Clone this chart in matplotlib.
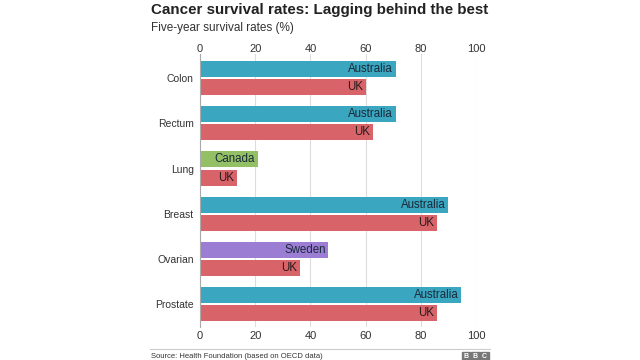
import numpy as np
import matplotlib.pyplot as plt
from matplotlib.patches import Rectangle

plt.rcParams['font.family'] = ['Liberation Sans', 'DejaVu Sans']

# data
cancers = ["Colon", "Rectum", "Lung", "Breast", "Ovarian", "Prostate"]
best_country = ["Australia", "Australia", "Canada", "Australia", "Sweden", "Australia"]
best_rate = [71, 71, 21, 90, 46.5, 94.6]
uk_rate = [60, 62.5, 13.3, 86, 36.3, 86]
xticks = [0, 20, 40, 60, 80, 100]

country_colours = {"Australia": "#3aa6bf", "Canada": "#93c064", "Sweden": "#9b7dd4"}
uk_colour = "#d8646a"

fig = plt.figure(figsize=(6.4, 3.6), dpi=100)
ax = fig.add_axes([200 / 640, 1 - 327 / 360, 276 / 640, 273 / 360])

y = np.arange(len(cancers))
h = 0.353
off = 0.2
best_cols = [country_colours[c] for c in best_country]
ax.barh(y - off, best_rate, height=h, color=best_cols)
ax.barh(y + off, uk_rate, height=h, color=uk_colour)

for yi, v, name in zip(y, best_rate, best_country):
    ax.text(v - 1, yi - off, name, ha='right', va='center', fontsize=8.3, color='#1a2a3a')
for yi, v in zip(y, uk_rate):
    ax.text(v - 1, yi + off, "UK", ha='right', va='center', fontsize=8.3, color='#2a1a1a')

ax.set_xlim(0, 100)
ax.set_ylim(5.5, -0.53)
ax.set_xticks(xticks)
ax.set_yticks(y)
ax.set_yticklabels(cancers)
ax.tick_params(axis='x', length=0, labelsize=8, labelcolor='#333333', pad=3)
ax.tick_params(axis='y', length=0, labelsize=7.5, labelcolor='#333333', pad=4.5)

# same scale repeated along the top
top = ax.secondary_xaxis('top')
top.set_xticks(xticks)
top.tick_params(length=0, labelsize=8, labelcolor='#333333', pad=0)
top.spines['top'].set_visible(False)

ax.grid(axis='x', color='#dddddd', linewidth=0.8)
ax.set_axisbelow(True)
for s in ['top', 'right', 'bottom']:
    ax.spines[s].set_visible(False)
ax.spines['left'].set_color('#aaaaaa')

fig.text(151 / 640, 1 - 10 / 360, "Cancer survival rates: Lagging behind the best",
         fontsize=10.9, fontweight='bold', color='#222222', va='center')
fig.text(151 / 640, 1 - 28 / 360, "Five-year survival rates (%)",
         fontsize=8.5, color='#333333', va='center')

# footer
fig.add_artist(plt.Line2D([150 / 640, 490 / 640], [1 - 349 / 360, 1 - 349 / 360],
                          color='#cccccc', linewidth=0.8))
fig.text(151 / 640, 1 - 356 / 360, "Source: Health Foundation (based on OECD data)",
         fontsize=5.5, color='#333333', va='center')
for i, letter in enumerate("BBC"):
    x0 = (462 + i * 9.3) / 640
    fig.add_artist(Rectangle((x0, 1 - 360 / 360), 8.3 / 640, 8 / 360,
                             transform=fig.transFigure, color='#777777'))
    fig.text(x0 + 4.15 / 640, 1 - 356 / 360, letter, fontsize=5, color='white',
             fontweight='bold', ha='center', va='center')

fig.savefig('out.png', dpi=100)
